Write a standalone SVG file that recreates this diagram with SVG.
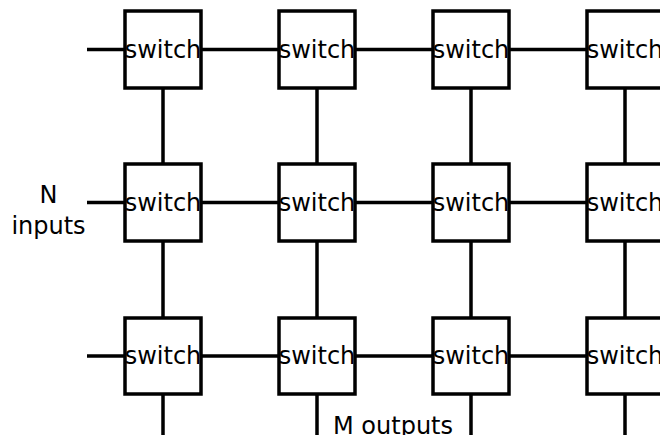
<svg xmlns="http://www.w3.org/2000/svg" width="660" height="435" viewBox="0 0 660 435">
<style>
.box{fill:#fff;stroke:#000;stroke-width:3.5}
.ln{stroke:#000;stroke-width:3.5;fill:none}
text{font-family:"DejaVu Sans",sans-serif;font-size:24px;fill:#000;text-anchor:middle}
</style>
<rect width="660" height="435" fill="#fff"/>
<g id="connectors">
<path class="ln" d="M87 49.5H125M201 49.5H279M355 49.5H433M509 49.5H587"/>
<path class="ln" d="M87 202.5H125M201 202.5H279M355 202.5H433M509 202.5H587"/>
<path class="ln" d="M87 356H125M201 356H279M355 356H433M509 356H587"/>
<path class="ln" d="M163 88V164M317 88V164M471 88V164M625 88V164"/>
<path class="ln" d="M163 241V318M317 241V318M471 241V318M625 241V318"/>
<path class="ln" d="M163 394V435M317 394V435M471 394V435M625 394V435"/>
</g>
<g id="s11"><rect class="box" x="125" y="11" width="76" height="77"/><text x="163" y="57.5">switch</text></g>
<g id="s12"><rect class="box" x="279" y="11" width="76" height="77"/><text x="317" y="57.5">switch</text></g>
<g id="s13"><rect class="box" x="433" y="11" width="76" height="77"/><text x="471" y="57.5">switch</text></g>
<g id="s14"><rect class="box" x="587" y="11" width="76" height="77"/><text x="625" y="57.5">switch</text></g>
<g id="s21"><rect class="box" x="125" y="164" width="76" height="77"/><text x="163" y="210.5">switch</text></g>
<g id="s22"><rect class="box" x="279" y="164" width="76" height="77"/><text x="317" y="210.5">switch</text></g>
<g id="s23"><rect class="box" x="433" y="164" width="76" height="77"/><text x="471" y="210.5">switch</text></g>
<g id="s24"><rect class="box" x="587" y="164" width="76" height="77"/><text x="625" y="210.5">switch</text></g>
<g id="s31"><rect class="box" x="125" y="318" width="76" height="76"/><text x="163" y="364">switch</text></g>
<g id="s32"><rect class="box" x="279" y="318" width="76" height="76"/><text x="317" y="364">switch</text></g>
<g id="s33"><rect class="box" x="433" y="318" width="76" height="76"/><text x="471" y="364">switch</text></g>
<g id="s34"><rect class="box" x="587" y="318" width="76" height="76"/><text x="625" y="364">switch</text></g>
<g id="inputs"><text x="48.5" y="202.5">N</text><text x="48.5" y="233.5">inputs</text></g>
<g id="outputs"><text x="393" y="433.5">M outputs</text></g>
</svg>
